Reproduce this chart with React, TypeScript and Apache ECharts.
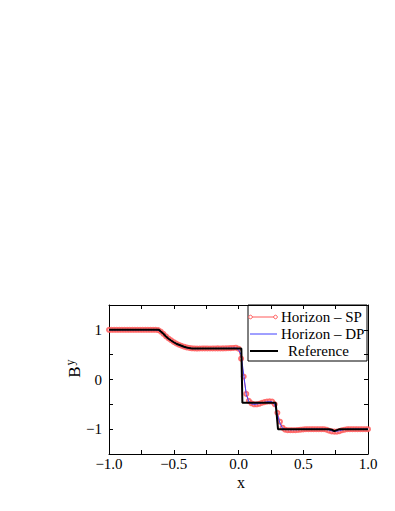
import React, { useEffect, useRef } from "react";
import * as echarts from "echarts";

const xs = [
  -1.0, -0.98, -0.96, -0.94, -0.92, -0.9, -0.88, -0.86, -0.84, -0.82,
  -0.8, -0.78, -0.76, -0.74, -0.72, -0.7, -0.68, -0.66, -0.64, -0.62,
  -0.6, -0.58, -0.56, -0.54, -0.52, -0.5, -0.48, -0.46, -0.44, -0.42,
  -0.4, -0.38, -0.36, -0.34, -0.32, -0.3, -0.28, -0.26, -0.24, -0.22,
  -0.2, -0.18, -0.16, -0.14, -0.12, -0.1, -0.08, -0.06, -0.04, -0.02,
  0.0, 0.02, 0.04, 0.06, 0.08, 0.1, 0.12, 0.14, 0.16, 0.18,
  0.2, 0.22, 0.24, 0.26, 0.28, 0.3, 0.32, 0.34, 0.36, 0.38,
  0.4, 0.42, 0.44, 0.46, 0.48, 0.5, 0.52, 0.54, 0.56, 0.58,
  0.6, 0.62, 0.64, 0.66, 0.68, 0.7, 0.72, 0.74, 0.76, 0.78,
  0.8, 0.82, 0.84, 0.86, 0.88, 0.9, 0.92, 0.94, 0.96, 0.98,
  1.0,
];

const spValues = [
  1.0, 1.0, 1.0, 1.0, 1.0, 1.0, 1.0, 1.0, 1.0, 1.0,
  1.0, 1.0, 1.0, 1.0, 1.0, 1.0, 1.0, 1.0, 1.0, 0.995,
  0.965, 0.92, 0.87, 0.825, 0.79, 0.755, 0.725, 0.7, 0.68, 0.66,
  0.645, 0.635, 0.628, 0.625, 0.623, 0.624, 0.625, 0.626, 0.625, 0.624,
  0.625, 0.626, 0.627, 0.626, 0.627, 0.628, 0.63, 0.632, 0.635, 0.64,
  0.62, 0.42, 0.06, -0.29, -0.43, -0.48, -0.5, -0.5, -0.49, -0.47,
  -0.455, -0.445, -0.44, -0.445, -0.5, -0.67, -0.85, -0.97, -1.01, -1.02,
  -1.02, -1.02, -1.02, -1.015, -1.01, -1.005, -1.0, -1.0, -1.0, -1.0,
  -1.0, -1.0, -1.0, -1.0, -1.01, -1.03, -1.045, -1.05, -1.05, -1.04,
  -1.02, -1.01, -1.0, -1.0, -1.0, -1.0, -1.0, -1.0, -1.0, -1.0,
  -1.0,
];

const dpValues = [
  1.0, 1.0, 1.0, 1.0, 1.0, 1.0, 1.0, 1.0, 1.0, 1.0,
  1.0, 1.0, 1.0, 1.0, 1.0, 1.0, 1.0, 1.0, 1.0, 0.99,
  0.96, 0.91, 0.86, 0.815, 0.78, 0.745, 0.715, 0.69, 0.67, 0.652,
  0.638, 0.63, 0.625, 0.622, 0.622, 0.623, 0.624, 0.624, 0.624, 0.624,
  0.625, 0.625, 0.626, 0.626, 0.627, 0.627, 0.628, 0.63, 0.632, 0.635,
  0.6, 0.5, 0.1, -0.3, -0.45, -0.49, -0.5, -0.495, -0.485, -0.47,
  -0.46, -0.45, -0.445, -0.45, -0.51, -0.7, -0.88, -0.98, -1.005, -1.01,
  -1.01, -1.01, -1.01, -1.01, -1.005, -1.0, -1.0, -1.0, -1.0, -1.0,
  -1.0, -1.0, -1.0, -1.0, -1.005, -1.02, -1.035, -1.04, -1.04, -1.03,
  -1.015, -1.005, -1.0, -1.0, -1.0, -1.0, -1.0, -1.0, -1.0, -1.0,
  -1.0,
];

const refX = [
  -1.0, -0.615, -0.6, -0.58, -0.56, -0.54, -0.52, -0.5, -0.48, -0.46,
  -0.44, -0.42, -0.4, -0.38, -0.36, 0.022, 0.03, 0.287, 0.305, 0.7,
  0.72, 0.74, 0.76, 0.78, 1.0,
];
const refY = [
  1.0, 1.0, 0.965, 0.92, 0.865, 0.82, 0.785, 0.75, 0.72, 0.7,
  0.68, 0.66, 0.645, 0.632, 0.626, 0.626, -0.47, -0.47, -1.0, -1.0,
  -1.01, -1.04, -1.02, -1.0, -1.0,
];

const seriesNames = ["Horizon \u2013 SP", "Horizon \u2013 DP", "Reference"];
const xTickLabels = ["\u22121.0", "\u22120.5", "0.0", "0.5", "1.0"];
const yTickLabels = ["\u22121", "0", "1"];

const FONT = "'Liberation Serif', 'Times New Roman', serif";
const RED = "#ff5a5a";
const BLUE = "#4040ff";

function xLabel(v: number): string {
  const k = Math.round((v + 1) * 2);
  if (Math.abs((v + 1) * 2 - k) > 1e-6) return "";
  return xTickLabels[k] ?? "";
}
function yLabel(v: number): string {
  const k = Math.round(v + 1);
  if (Math.abs(v + 1 - k) > 1e-6) return "";
  return yTickLabels[k] ?? "";
}

export default function App() {
  const ref = useRef<HTMLDivElement>(null);
  useEffect(() => {
    if (!ref.current) return;
    const chart = echarts.init(ref.current, undefined, { renderer: "svg" });
    const axisLine = { show: true, onZero: false, lineStyle: { color: "#000", width: 1 } };
    const tick = { show: true, inside: true, length: 4, lineStyle: { color: "#000", width: 1 } };
    const lbl = { fontFamily: FONT, fontSize: 15, color: "#000", lineHeight: 13 };
    chart.setOption({
      animation: false,
      backgroundColor: "#fff",
      grid: { left: 109, top: 305, width: 259, height: 149, containLabel: false },
      xAxis: [
        {
          type: "value", position: "bottom", min: -1, max: 1, interval: 0.25,
          axisLine, axisTick: tick, splitLine: { show: false },
          axisLabel: { ...lbl, margin: 3, formatter: xLabel, showMinLabel: true, showMaxLabel: true },
        },
        {
          type: "value", position: "top", min: -1, max: 1, interval: 0.25,
          axisLine, axisTick: tick, splitLine: { show: false }, axisLabel: { show: false },
        },
      ],
      yAxis: [
        {
          type: "value", position: "left", min: -1.5, max: 1.5, interval: 0.5,
          axisLine, axisTick: tick, splitLine: { show: false },
          axisLabel: { ...lbl, margin: 7, formatter: yLabel },
        },
        {
          type: "value", position: "right", min: -1.5, max: 1.5, interval: 0.5,
          axisLine, axisTick: tick, splitLine: { show: false }, axisLabel: { show: false },
        },
      ],
      series: [
        {
          name: seriesNames[0], type: "line", z: 2,
          data: xs.map((x, i) => [x, spValues[i]]),
          symbol: "emptyCircle", symbolSize: 4, showAllSymbol: true,
          itemStyle: { color: RED, borderWidth: 0.8, opacity: 0.85 },
          lineStyle: { color: RED, width: 1 },
        },
        {
          name: seriesNames[1], type: "line", z: 3,
          data: xs.map((x, i) => [x, dpValues[i]]),
          showSymbol: false, symbol: "none",
          lineStyle: { color: BLUE, width: 1 },
        },
        {
          name: seriesNames[2], type: "line", z: 4,
          data: refX.map((x, i) => [x, refY[i]]),
          showSymbol: false, symbol: "none",
          lineStyle: { color: "#000", width: 2 },
        },
      ],
      graphic: [
        {
          type: "group", x: 74, y: 372, rotation: Math.PI / 2,
          children: [
            { type: "text", x: 0, y: 0, style: { text: "B", font: `17px ${FONT}`, fill: "#000", align: "center", verticalAlign: "middle" } },
            { type: "text", x: 9.5, y: -4, style: { text: "y", font: `12px ${FONT}`, fill: "#000", align: "center", verticalAlign: "middle" } },
          ],
        },
        { type: "text", x: 241, y: 482, style: { text: "x", font: `16px ${FONT}`, lineHeight: 10, fill: "#000", align: "center", verticalAlign: "middle" } },
        {
          type: "group", z: 100,
          children: [
            { type: "rect", shape: { x: 248, y: 305, width: 119, height: 56 }, style: { fill: "#fff", stroke: "#000", lineWidth: 1 } },
            { type: "line", shape: { x1: 250, y1: 317, x2: 276, y2: 317 }, style: { stroke: RED, lineWidth: 1 } },
            { type: "circle", shape: { cx: 250.5, cy: 317, r: 1.8 }, style: { fill: "#fff", stroke: RED, lineWidth: 1 } },
            { type: "circle", shape: { cx: 275.5, cy: 317, r: 1.8 }, style: { fill: "#fff", stroke: RED, lineWidth: 1 } },
            { type: "text", x: 281, y: 317, style: { text: seriesNames[0], font: `15px ${FONT}`, fill: "#000", verticalAlign: "middle" } },
            { type: "line", shape: { x1: 250, y1: 334, x2: 277, y2: 334 }, style: { stroke: BLUE, lineWidth: 1 } },
            { type: "text", x: 281, y: 334, style: { text: seriesNames[1], font: `15px ${FONT}`, fill: "#000", verticalAlign: "middle" } },
            { type: "line", shape: { x1: 250, y1: 351, x2: 278, y2: 351 }, style: { stroke: "#000", lineWidth: 2 } },
            { type: "text", x: 288, y: 351, style: { text: seriesNames[2], font: `15px ${FONT}`, fill: "#000", verticalAlign: "middle" } },
          ],
        },
      ],
    });
    return () => chart.dispose();
  }, []);
  return (
    <div
      ref={ref}
      style={{ position: "fixed", left: 0, top: 0, width: 395, height: 511, background: "#fff" }}
    />
  );
}
